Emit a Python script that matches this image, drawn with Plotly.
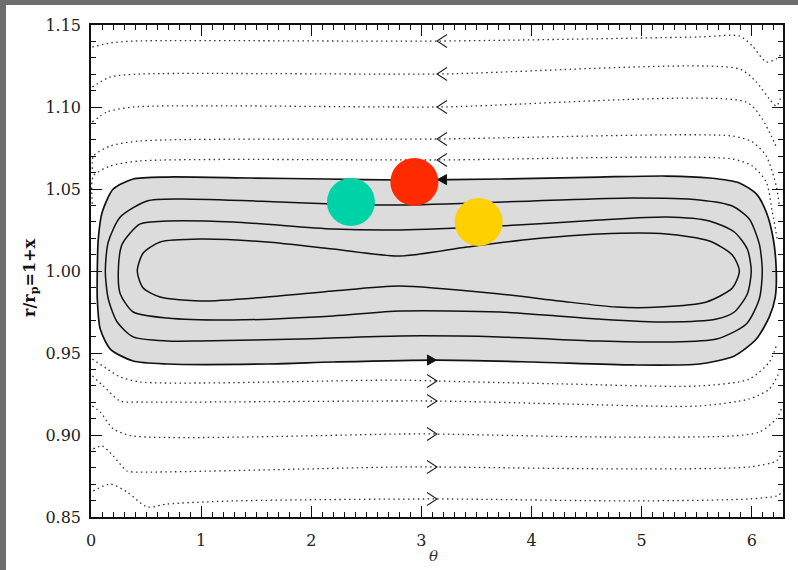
import numpy as np
import plotly.graph_objects as go

# ---------------------------------------------------------------
# Co-orbital streamlines in the rotating frame: theta vs r/r_p
# ---------------------------------------------------------------

# Closed (horseshoe) streamlines, outermost first
outer_theta = [2.804, 3.711, 4.616, 5.225, 5.615, 5.887, 6.041, 6.131, 6.195, 6.222,
               6.213, 6.159, 6.041, 5.841, 5.524, 4.916, 4.010, 3.140, 2.197, 1.598,
               0.692, 0.383, 0.175, 0.084, 0.057, 0.057, 0.066, 0.102, 0.202, 0.383,
               0.692, 1.444, 2.142, 2.804]
outer_r = [1.0555, 1.0561, 1.0573, 1.0579, 1.0567, 1.0537, 1.0470, 1.0360, 1.0195, 1.0000,
           0.9841, 0.9720, 0.9585, 0.9482, 0.9433, 0.9427, 0.9445, 0.9457, 0.9445, 0.9433,
           0.9433, 0.9451, 0.9524, 0.9646, 0.9829, 1.0000, 1.0195, 1.0360, 1.0500, 1.0561,
           1.0573, 1.0567, 1.0561, 1.0555]

second_theta = [2.804, 4.010, 4.916, 5.524, 5.823, 5.977, 6.068, 6.095, 6.068, 5.950,
                5.679, 5.225, 4.616, 3.711, 2.804, 1.898, 0.991, 0.692, 0.383, 0.238,
                0.157, 0.130, 0.157, 0.266, 0.510, 0.810, 1.716, 2.197, 2.804]
second_r = [1.0402, 1.0427, 1.0445, 1.0433, 1.0396, 1.0317, 1.0165, 1.0000, 0.9829, 0.9677,
            0.9585, 0.9567, 0.9573, 0.9598, 0.9604, 0.9585, 0.9573, 0.9573, 0.9598, 0.9689,
            0.9829, 1.0000, 1.0177, 1.0329, 1.0427, 1.0439, 1.0421, 1.0409, 1.0402]

third_theta = [2.804, 3.711, 4.616, 5.225, 5.615, 5.841, 5.959, 5.995, 5.959, 5.841,
               5.679, 5.225, 4.616, 3.711, 2.804, 2.197, 1.290, 0.692, 0.383, 0.266,
               0.248, 0.284, 0.447, 0.692, 1.290, 2.197, 2.804]
third_r = [1.0250, 1.0274, 1.0311, 1.0329, 1.0305, 1.0238, 1.0134, 1.0000, 0.9860, 0.9750,
           0.9707, 0.9689, 0.9707, 0.9750, 0.9756, 0.9726, 0.9701, 0.9713, 0.9750, 0.9860,
           1.0000, 1.0165, 1.0287, 1.0305, 1.0299, 1.0256, 1.0250]

inner_theta = [2.804, 3.412, 4.010, 4.616, 5.225, 5.615, 5.823, 5.887, 5.823, 5.588,
               5.161, 4.771, 4.254, 3.711, 2.804, 2.197, 1.598, 0.991, 0.628, 0.474,
               0.420, 0.474, 0.628, 0.991, 1.598, 2.197, 2.804]
inner_r = [1.0091, 1.0146, 1.0195, 1.0226, 1.0226, 1.0183, 1.0098, 1.0000, 0.9896, 0.9811,
           0.9780, 0.9780, 0.9817, 0.9860, 0.9909, 0.9878, 0.9841, 0.9817, 0.9841, 0.9896,
           1.0000, 1.0110, 1.0177, 1.0195, 1.0177, 1.0134, 1.0091]

# Open (passing) streamlines outside the planet's orbit
up1_theta = [0.012, 0.175, 0.383, 3.140, 5.524, 5.887, 6.005, 6.131, 6.222, 6.268]
up1_r = [1.1366, 1.1390, 1.1402, 1.1402, 1.1427, 1.1433, 1.1372, 1.1274, 1.1293, 1.1323]
up2_theta = [0.012, 0.175, 0.447, 3.140, 5.887, 6.041, 6.159, 6.222, 6.268]
up2_r = [1.1122, 1.1183, 1.1201, 1.1201, 1.1232, 1.1152, 1.1049, 1.1006, 1.1067]
up3_theta = [0.012, 0.148, 0.383, 3.140, 5.950, 6.095, 6.177, 6.231]
up3_r = [1.0909, 1.0970, 1.1000, 1.1000, 1.1030, 1.0927, 1.0823, 1.0744]
up4_theta = [0.012, 0.021, 0.175, 0.447, 3.140, 5.823, 6.005, 6.131, 6.222, 6.250]
up4_r = [1.0622, 1.0701, 1.0762, 1.0793, 1.0805, 1.0823, 1.0787, 1.0701, 1.0518, 1.0396]
up5_theta = [0.012, 0.021, 0.175, 0.447, 3.140, 5.823, 6.005, 6.131, 6.186, 6.231]
up5_r = [1.0409, 1.0579, 1.0640, 1.0671, 1.0677, 1.0683, 1.0640, 1.0543, 1.0360, 1.0195]

# Open (passing) streamlines inside the planet's orbit
lo1_theta = [0.012, 0.148, 0.266, 0.447, 0.991, 2.804, 3.140, 4.318, 5.524, 5.977, 6.159, 6.222]
lo1_r = [0.9463, 0.9402, 0.9354, 0.9323, 0.9317, 0.9335, 0.9329, 0.9311, 0.9299, 0.9341, 0.9445, 0.9543]
lo2_theta = [0.012, 0.112, 0.266, 0.447, 3.140, 4.318, 5.524, 5.977, 6.159, 6.250]
lo2_r = [0.9360, 0.9299, 0.9207, 0.9201, 0.9207, 0.9189, 0.9177, 0.9220, 0.9280, 0.9384]
lo3_theta = [0.012, 0.084, 0.202, 0.383, 2.804, 3.140, 4.616, 5.823, 6.068, 6.222, 6.268]
lo3_r = [0.9177, 0.9140, 0.9037, 0.8994, 0.9006, 0.9006, 0.8988, 0.8994, 0.9018, 0.9098, 0.9159]
lo4_theta = [0.021, 0.102, 0.202, 0.329, 0.447, 2.804, 3.140, 4.916, 5.977, 6.222, 6.268]
lo4_r = [0.8915, 0.8933, 0.8872, 0.8780, 0.8774, 0.8805, 0.8805, 0.8793, 0.8805, 0.8841, 0.8884]
lo5_theta = [0.021, 0.175, 0.329, 0.510, 0.692, 1.290, 3.140, 4.916, 5.977, 6.222, 6.268]
lo5_r = [0.8659, 0.8701, 0.8652, 0.8561, 0.8579, 0.8598, 0.8610, 0.8598, 0.8610, 0.8628, 0.8646]

# Bodies drawn on the outer horseshoe region
body_theta = [2.36, 2.936, 3.52]
body_r = [1.0421, 1.0543, 1.0299]
body_color = ["#00d2a8", "#ff2a00", "#ffd000"]

# Axis settings
x_range = [0.0, 2 * np.pi]
y_range = [0.85, 1.15]
y_ticks = [0.85, 0.90, 0.95, 1.00, 1.05, 1.10, 1.15]
x_ticks = [0, 1, 2, 3, 4, 5, 6]

ARROW_THETA = np.pi

# Figure geometry (pixels) so that arrow glyphs can be sized in screen units
W, H = 798, 570
ML, MR, MT, MB = 91, 15, 25, 53
PW, PH = W - ML - MR, H - MT - MB
px_per_theta = PW / (x_range[1] - x_range[0])
px_per_r = PH / (y_range[1] - y_range[0])

SERIF = "DejaVu Serif"
INK = "#111111"


def paper_x(px):
    return (px - ML) / PW


def paper_y(py):
    return (MT + PH - py) / PH


fig = go.Figure()

# shaded horseshoe region bounded by the separatrix
fig.add_trace(go.Scatter(
    x=outer_theta, y=outer_r, mode="lines", fill="toself",
    fillcolor="#dcdcdc", line=dict(color=INK, width=1.7, shape="spline", smoothing=0.7),
    hoverinfo="skip"))

for th, rr in [(second_theta, second_r), (third_theta, third_r), (inner_theta, inner_r)]:
    fig.add_trace(go.Scatter(
        x=th, y=rr, mode="lines",
        line=dict(color=INK, width=1.5, shape="spline", smoothing=0.7),
        hoverinfo="skip"))

upper = [(up1_theta, up1_r), (up2_theta, up2_r), (up3_theta, up3_r),
         (up4_theta, up4_r), (up5_theta, up5_r)]
lower = [(lo1_theta, lo1_r), (lo2_theta, lo2_r), (lo3_theta, lo3_r),
         (lo4_theta, lo4_r), (lo5_theta, lo5_r)]

for th, rr in upper + lower:
    fig.add_trace(go.Scatter(
        x=th, y=rr, mode="lines",
        line=dict(color="#333333", width=1.3, dash="1.5px,3.4px", shape="spline", smoothing=0.7),
        hoverinfo="skip"))


def chevron(theta_tip, r_tip, direction, length_px=10.0, half_px=6.5):
    """Open chevron with its tip at (theta_tip, r_tip); direction -1 points left."""
    dth = -direction * length_px / px_per_theta
    dr = half_px / px_per_r
    return ([theta_tip + dth, theta_tip, theta_tip + dth],
            [r_tip + dr, r_tip, r_tip - dr])


def head(theta_tip, r_tip, direction, length_px=9.0, half_px=5.0):
    """Filled triangular arrow head with its tip at (theta_tip, r_tip)."""
    dth = -direction * length_px / px_per_theta
    dr = half_px / px_per_r
    return ([theta_tip, theta_tip + dth, theta_tip + dth, theta_tip],
            [r_tip, r_tip + dr, r_tip - dr, r_tip])


# flow direction markers on the passing streamlines (outer: leftward, inner: rightward)
for group, direction in [(upper, -1), (lower, +1)]:
    for th, rr in group:
        r_tip = float(np.interp(ARROW_THETA, th, rr))
        cx, cy = chevron(ARROW_THETA, r_tip, direction)
        fig.add_trace(go.Scatter(x=cx, y=cy, mode="lines",
                                 line=dict(color="#222222", width=1.1), hoverinfo="skip"))

# flow direction on the separatrix
top_pts = sorted((t, r) for t, r in zip(outer_theta, outer_r) if 2.0 < t < 4.5 and r > 1)
bot_pts = sorted((t, r) for t, r in zip(outer_theta, outer_r) if 2.0 < t < 4.5 and r < 1)
r_top = float(np.interp(ARROW_THETA, [p[0] for p in top_pts], [p[1] for p in top_pts]))
r_bot = float(np.interp(ARROW_THETA, [p[0] for p in bot_pts], [p[1] for p in bot_pts]))
for r_tip, direction in [(r_top, -1), (r_bot, +1)]:
    hx, hy = head(ARROW_THETA - direction * 0.005, r_tip, direction)
    fig.add_trace(go.Scatter(x=hx, y=hy, mode="lines", fill="toself", fillcolor=INK,
                             line=dict(color=INK, width=1), hoverinfo="skip"))

# coloured bodies (on the overlay axes, which also carry the mirrored ticks)
fig.add_trace(go.Scatter(
    x=body_theta, y=body_r, mode="markers", xaxis="x2", yaxis="y2",
    marker=dict(size=48, color=body_color, line=dict(width=0)),
    hoverinfo="skip"))

tick_font = dict(family=SERIF, size=16, color="#222222")
major = dict(ticks="inside", ticklen=11, tickwidth=1.3, tickcolor=INK)


def minor(step, start):
    return dict(dtick=step, tick0=start, ticks="inside", ticklen=5,
                tickwidth=1, tickcolor=INK, showgrid=False)


fig.update_layout(
    width=W, height=H, margin=dict(l=ML, r=MR, t=MT, b=MB),
    paper_bgcolor="white", plot_bgcolor="white", showlegend=False,
    xaxis=dict(range=x_range, tickvals=x_ticks, ticklabelstandoff=8, tickfont=tick_font,
               showline=True, linecolor=INK, linewidth=1.5, mirror=True,
               showgrid=False, zeroline=False, minor=minor(0.1, 0), **major),
    yaxis=dict(range=y_range, tickvals=y_ticks, tickformat=".2f", ticklabelstandoff=5,
               tickfont=tick_font, showline=True, linecolor=INK, linewidth=1.5, mirror=True,
               showgrid=False, zeroline=False, minor=minor(0.01, 0.85), **major),
    xaxis2=dict(range=x_range, tickvals=x_ticks, overlaying="x", side="top", anchor="y2",
                showticklabels=False, showline=False, showgrid=False, zeroline=False,
                minor=minor(0.1, 0), **major),
    yaxis2=dict(range=y_range, tickvals=y_ticks, overlaying="y", side="right", anchor="x2",
                showticklabels=False, showline=False, showgrid=False, zeroline=False,
                minor=minor(0.01, 0.85), **major),
)

# grey frame along the top and left edges of the page
frame = "#6e6e6e"
fig.add_shape(type="rect", xref="paper", yref="paper", layer="above",
              x0=paper_x(-2), x1=paper_x(W + 2), y0=paper_y(5), y1=paper_y(-2),
              fillcolor=frame, line=dict(width=0))
fig.add_shape(type="rect", xref="paper", yref="paper", layer="above",
              x0=paper_x(-2), x1=paper_x(6), y0=paper_y(H + 2), y1=paper_y(-2),
              fillcolor=frame, line=dict(width=0))

# axis titles
fig.add_annotation(xref="paper", yref="paper", x=paper_x(30), y=paper_y(278),
                   text="<b>r/r<sub>p</sub>=1+x</b>", textangle=-90, showarrow=False,
                   xanchor="center", yanchor="middle",
                   font=dict(family=SERIF, size=16, color="#111111"))
fig.add_annotation(xref="paper", yref="paper", x=paper_x(433), y=paper_y(556),
                   text="<i>θ</i>", showarrow=False, xanchor="center", yanchor="middle",
                   font=dict(family=SERIF, size=15, color="#333333"))

fig.write_html("out.html")
